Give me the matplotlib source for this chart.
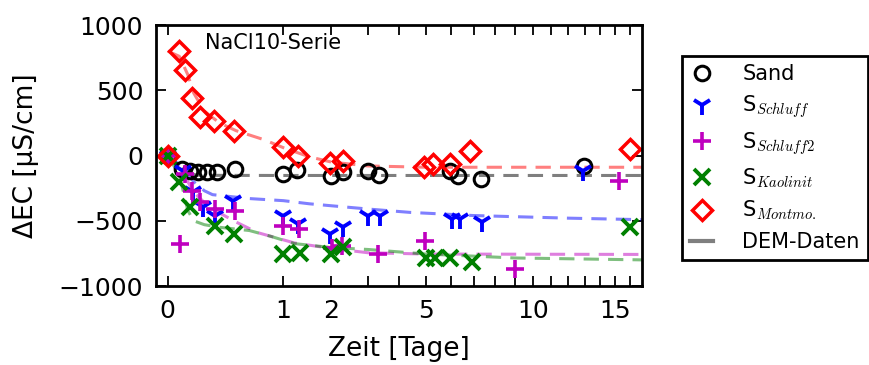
import numpy as np
import matplotlib
matplotlib.use("Agg")
import matplotlib.pyplot as plt

plt.rcParams['font.family'] = ['DejaVu Sans']
plt.rcParams['mathtext.fontset'] = 'cm'

# ---- data (time in days, ΔEC in µS/cm) ----
sand_t = [0, 0.015, 0.037, 0.07, 0.114, 0.18, 0.339, 1.0, 1.245, 2.0, 2.31, 3.01, 3.35, 5.96, 6.32, 7.33, 12.97]
sand_v = [0, -102, -115, -128, -128, -128, -102, -141, -110, -154, -128, -115, -148, -115, -159, -179, -77]

schluff_t = [0, 0.018, 0.049, 0.095, 0.167, 0.322, 1.0, 1.277, 1.97, 2.29, 3.01, 3.37, 6.03, 6.39, 7.38, 12.93]
schluff_v = [0, -115, -282, -398, -460, -346, -460, -525, -602, -551, -460, -460, -487, -487, -513, -115]

schluff2_t = [0, 0.0113, 0.0225, 0.043, 0.078, 0.167, 0.339, 1.0, 1.29, 2.01, 2.27, 3.32, 4.95, 9.03, 15.26]
schluff2_v = [0, -679, -140, -269, -359, -410, -423, -538, -564, -705, -692, -756, -654, -868, -192]

kaolinit_t = [0, 0.01, 0.037, 0.167, 0.329, 0.99, 1.30, 1.99, 2.29, 4.99, 5.35, 5.96, 6.92, 16.0]
kaolinit_v = [0, -205, -398, -538, -602, -756, -744, -756, -700, -782, -782, -782, -813, -546]

montmo_t = [0, 0.01, 0.021, 0.043, 0.078, 0.163, 0.332, 0.99, 1.277, 1.97, 2.29, 4.92, 5.25, 5.96, 6.84, 16.0]
montmo_v = [0, 802, 659, 441, 295, 262, 185, 64, 0, -56, -44, -90, -64, -64, 33, 51]

# DEM model curves
dem_sand_t = [0, 0.01, 0.03, 0.06, 0.1, 1.0, 5.0, 17.0]
dem_sand_v = [0, -80, -130, -150, -152, -153, -153, -153]

dem_schluff_t = [0, 0.02, 0.05, 0.1, 0.15, 0.3, 0.5, 1.0, 1.5, 2.0, 3.0, 4.4, 7.0, 12.0, 17.0]
dem_schluff_v = [0, -100, -200, -270, -300, -315, -330, -346, -370, -385, -410, -436, -460, -480, -492]

dem_schluff2_t = [0, 0.02, 0.05, 0.1, 0.2, 0.35, 0.6, 0.8, 1.2, 2.0, 3.0, 5.0, 17.0]
dem_schluff2_v = [0, -150, -280, -360, -440, -510, -590, -620, -670, -712, -745, -755, -758]

dem_kaolinit_t = [0, 0.01, 0.02, 0.03, 0.05, 0.1, 0.2, 0.5, 0.8, 1.2, 2.0, 3.0, 5.0, 9.0, 17.0]
dem_kaolinit_v = [0, -150, -300, -420, -500, -530, -550, -575, -620, -675, -705, -720, -755, -785, -800]

dem_montmo_t = [0, 0.01, 0.03, 0.05, 0.1, 0.2, 0.35, 0.7, 1.0, 1.5, 2.0, 3.0, 5.0, 10.0, 17.0]
dem_montmo_v = [800, 760, 620, 480, 340, 250, 190, 120, 60, -10, -50, -80, -90, -90, -90]

xtick_vals = list(range(0, 17))
xtick_labels = {0: '0', 1: '1', 2: '2', 5: '5', 10: '10', 15: '15'}
yticks = [-1000, -500, 0, 500, 1000]

# ---- plotting ----
def fwd(x):
    x = np.asarray(x, dtype=float)
    return np.sign(x) * np.sqrt(np.abs(x))

def inv(x):
    x = np.asarray(x, dtype=float)
    return np.sign(x) * x ** 2

fig = plt.figure(figsize=(8.7, 3.65), dpi=100)
ax = fig.add_axes([0.179, 0.2164, 0.5586, 0.7151])
ax.set_xscale('function', functions=(fwd, inv))

ls = (0, (5, 3))
lw = 2.2
ax.plot(dem_sand_t, dem_sand_v, color='k', alpha=0.5, lw=lw, ls=ls, label='_nolegend_')
ax.plot(dem_schluff_t, dem_schluff_v, color='b', alpha=0.5, lw=lw, ls=ls)
ax.plot(dem_schluff2_t, dem_schluff2_v, color='m', alpha=0.5, lw=lw, ls=ls)
ax.plot(dem_kaolinit_t, dem_kaolinit_v, color='g', alpha=0.5, lw=lw, ls=ls)
ax.plot(dem_montmo_t, dem_montmo_v, color='r', alpha=0.5, lw=lw, ls=ls)

ms = 10
mew = 2.2
h_sand, = ax.plot(sand_t, sand_v, 'o', mfc='none', mec='k', ms=ms + 0.5, mew=mew, label='Sand')
h_sch, = ax.plot(schluff_t, schluff_v, '1', color='b', ms=ms + 4, mew=mew + 0.6, label='S$_{Schluff}$')
h_sch2, = ax.plot(schluff2_t, schluff2_v, '+', color='m', ms=ms + 3, mew=mew + 0.4, label='S$_{Schluff2}$')
h_kao, = ax.plot(kaolinit_t, kaolinit_v, 'x', color='g', ms=ms + 1, mew=mew + 0.6, label='S$_{Kaolinit}$')
h_mon, = ax.plot(montmo_t, montmo_v, 'D', mfc='none', mec='r', ms=ms + 0.5, mew=mew + 0.3, label='S$_{Montmo.}$')
h_dem, = ax.plot([], [], '-', color='k', alpha=0.5, lw=3, label='DEM-Daten')

ax.set_xlim(inv(-0.104), inv(4.1))
ax.set_ylim(-1000, 1000)
ax.set_xticks(xtick_vals)
ax.set_xticklabels([xtick_labels.get(v, '') for v in xtick_vals])
ax.set_yticks(yticks)
ax.tick_params(direction='in', length=7, width=1.3, top=True, right=True,
               labelsize=18, pad=9)
ax.minorticks_off()
for sp in ax.spines.values():
    sp.set_linewidth(2)

ax.set_xlabel('Zeit [Tage]', fontsize=19, labelpad=10)
ax.set_ylabel('ΔEC [µS/cm]', fontsize=19, labelpad=14)
ax.text(0.101, 0.931, 'NaCl10-Serie', transform=ax.transAxes, fontsize=15,
        ha='left', va='center')

leg = fig.legend(handles=[h_sand, h_sch, h_sch2, h_kao, h_mon, h_dem],
                 loc='upper left', bbox_to_anchor=(0.772, 0.875),
                 bbox_transform=fig.transFigure, fontsize=15, numpoints=1,
                 handlelength=1.1, handletextpad=1.4, labelspacing=0.45,
                 borderpad=0.4, fancybox=False, edgecolor='k', framealpha=1)
leg.get_frame().set_linewidth(2)

fig.savefig('out.png', dpi=100)
